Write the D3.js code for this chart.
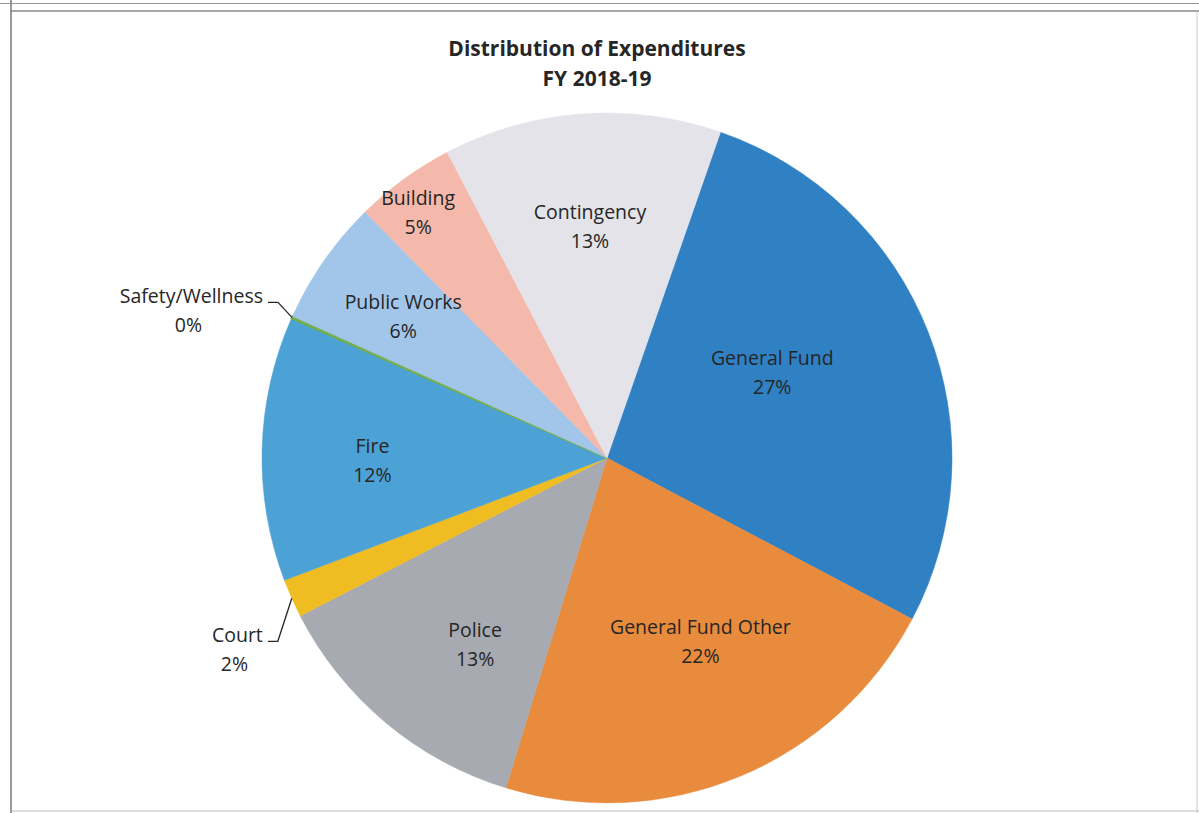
<!DOCTYPE html>
<html><head><meta charset="utf-8">
<script src="https://cdn.jsdelivr.net/npm/d3@7"></script>
<style>
html,body{margin:0;padding:0;background:#fff;}
svg{display:block;}
text{font-family:"Open Sans","Noto Sans",sans-serif;fill:#262626;}
</style></head>
<body>
<svg id="chart" width="1199" height="813"></svg>
<script>
// ---- data ----
const categories = ["General Fund","General Fund Other","Police","Court","Fire","Safety/Wellness","Public Works","Building","Contingency"];
const shares = [27.4, 22.0, 12.7, 1.8, 12.4, 0.1, 5.9, 4.7, 13.0];
const percentLabels = ["27%","22%","13%","2%","12%","0%","6%","5%","13%"];
const titleLines = ["Distribution of Expenditures","FY 2018-19"];

// ---- style / layout ----
const colors = ["#3080C4","#E98B3C","#A7AAB0","#EFBC22","#4DA2D5","#72AE4A","#A2C6E9","#F4B9AA","#E3E3E9"];
const labelRadius = {"General Fund":0.54,"General Fund Other":0.595,"Police":0.66,"Fire":0.68,"Public Works":0.72,"Building":0.9,"Contingency":0.675};
const labelAngleShift = {"General Fund":-6,"General Fund Other":-4.5,"Police":-4.5,"Building":-1.4,"Fire":-2};
const outside = {"Safety/Wellness":"up","Court":"down"};

const svg = d3.select("#chart");
const W = 1199, H = 813;
const cx = 607, cy = 458, R = 345;
const startDeg = 19.2;
const fs = 19.5;

// frame
svg.append("line").attr("x1",0).attr("x2",W).attr("y1",3.5).attr("y2",3.5).attr("stroke","#9a9a9a").attr("stroke-width",1.2);
svg.append("line").attr("x1",11).attr("x2",W).attr("y1",11).attr("y2",11).attr("stroke","#8a8a8a").attr("stroke-width",1.5);
svg.append("line").attr("x1",11).attr("x2",11).attr("y1",0).attr("y2",H).attr("stroke","#777").attr("stroke-width",1.5);
svg.append("line").attr("x1",11).attr("x2",W).attr("y1",811).attr("y2",811).attr("stroke","#bbb").attr("stroke-width",1);
svg.append("line").attr("x1",1197).attr("x2",1197).attr("y1",11).attr("y2",H).attr("stroke","#ccc").attr("stroke-width",1);

// title
const title = svg.append("text").attr("text-anchor","middle").attr("font-weight","bold").style("font-size","21px");
titleLines.forEach((t,i)=> title.append("tspan").attr("x",597).attr("y",56 + i*30).text(t));

const data = categories.map((c,i)=>({name:c, value:shares[i], pct:percentLabels[i], color:colors[i]}));
const a0 = startDeg*Math.PI/180;
const pie = d3.pie().value(d=>d.value).sort(null).startAngle(a0).endAngle(a0+2*Math.PI);
const arcs = pie(data);
const arc = d3.arc().innerRadius(0).outerRadius(R);

const g = svg.append("g").attr("transform",`translate(${cx},${cy})`);
g.selectAll("path.slice").data(arcs).enter().append("path")
  .attr("class","slice").attr("d",arc)
  .attr("fill",d=>d.data.color)
  .attr("stroke",d=>d.data.color).attr("stroke-width",d=>d.data.name==="Safety/Wellness"?2:0.5);

arcs.forEach(d=>{
  const name = d.data.name;
  const mid = (d.startAngle+d.endAngle)/2 + (labelAngleShift[name]||0)*Math.PI/180;
  if (outside[name]) {
    const m0 = (d.startAngle+d.endAngle)/2;
    const px = Math.sin(m0)*R, py = -Math.cos(m0)*R;
    const up = outside[name]==="up";
    const ex = px-14, ey = up ? py-15 : py+43;
    const hx = ex-10;
    g.append("path").attr("d",`M${px},${py}L${ex},${ey}L${hx},${ey}`)
      .attr("fill","none").attr("stroke","#262626").attr("stroke-width",1.3);
    const t1 = g.append("text").attr("text-anchor","middle").style("font-size",fs+"px").text(name);
    const w = t1.node().getComputedTextLength();
    const lx = hx - 5 - w/2;
    t1.attr("x",lx).attr("y",ey+1);
    g.append("text").attr("text-anchor","middle").style("font-size",fs+"px")
      .attr("x",lx - 3).attr("y",ey+30).text(d.data.pct);
  } else {
    const r = R*(labelRadius[name]||0.66);
    const x = Math.sin(mid)*r, y = -Math.cos(mid)*r;
    const t = g.append("text").attr("text-anchor","middle").style("font-size",fs+"px");
    t.append("tspan").attr("x",x).attr("y",y-7).text(name);
    t.append("tspan").attr("x",x).attr("y",y+22).text(d.data.pct);
  }
});
</script>
</body></html>
